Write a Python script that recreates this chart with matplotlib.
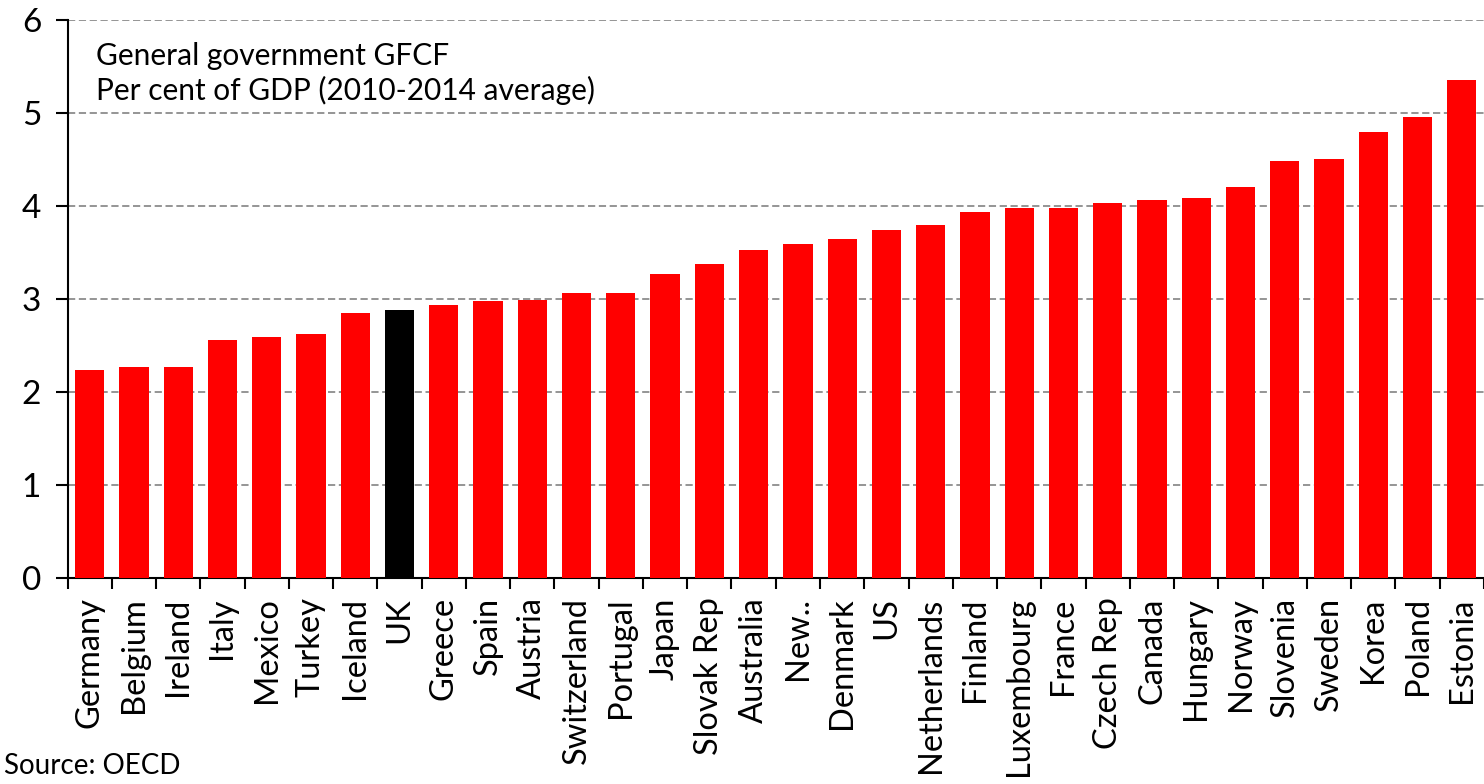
import numpy as np
import matplotlib
matplotlib.use("Agg")
import matplotlib.pyplot as plt

plt.rcParams['font.family'] = ['Lato', 'DejaVu Sans']

# Data
countries = ["Germany", "Belgium", "Ireland", "Italy", "Mexico", "Turkey", "Iceland", "UK",
             "Greece", "Spain", "Austria", "Switzerland", "Portugal", "Japan", "Slovak Rep",
             "Australia", "New..", "Denmark", "US", "Netherlands", "Finland", "Luxembourg",
             "France", "Czech Rep", "Canada", "Hungary", "Norway", "Slovenia", "Sweden",
             "Korea", "Poland", "Estonia"]
gfcf = [2.24, 2.27, 2.27, 2.56, 2.59, 2.62, 2.85, 2.88,
        2.93, 2.98, 2.99, 3.06, 3.06, 3.27, 3.38,
        3.53, 3.59, 3.64, 3.74, 3.80, 3.93, 3.98,
        3.98, 4.03, 4.06, 4.09, 4.20, 4.48, 4.51,
        4.80, 4.96, 5.35]
highlight = "UK"

fig = plt.figure(figsize=(14.84, 7.84), dpi=100)
ax = fig.add_axes([0.0455, 0.263, 0.9545, 0.7115])

x = np.arange(len(countries))
colors = ["black" if c == highlight else "#ff0000" for c in countries]
ax.bar(x, gfcf, width=0.66, color=colors, zorder=3)

ax.set_xlim(-0.5, len(countries) - 0.5)
ax.set_ylim(0, 6)
ax.set_yticks(range(0, 7))
ax.yaxis.grid(True, color="#8c8c8c", linestyle=(0, (4, 2)), linewidth=1.3, zorder=0)

# country names centred under bars, tick marks between bars
ax.set_xticks(x)
ax.set_xticklabels(countries, rotation=90, fontsize=23.5)
ax.set_xticks(np.arange(-0.5, len(countries)), minor=True)
ax.tick_params(axis="x", which="major", length=0, pad=14)
ax.tick_params(axis="x", which="minor", length=8, width=1.5, direction="out")
ax.tick_params(axis="y", length=9, width=1.5, direction="out", labelsize=24, pad=10)

for side in ["top", "right"]:
    ax.spines[side].set_visible(False)
ax.spines["left"].set_linewidth(1.5)
ax.spines["bottom"].set_linewidth(1.5)

ax.text(0.02, 0.96, "General government GFCF\nPer cent of GDP (2010-2014 average)",
        transform=ax.transAxes, fontsize=21.5, va="top", ha="left", linespacing=1.25)

fig.text(0.003, 0.006, "Source: OECD", fontsize=20, ha="left", va="bottom")

fig.savefig("out.png", dpi=100)
